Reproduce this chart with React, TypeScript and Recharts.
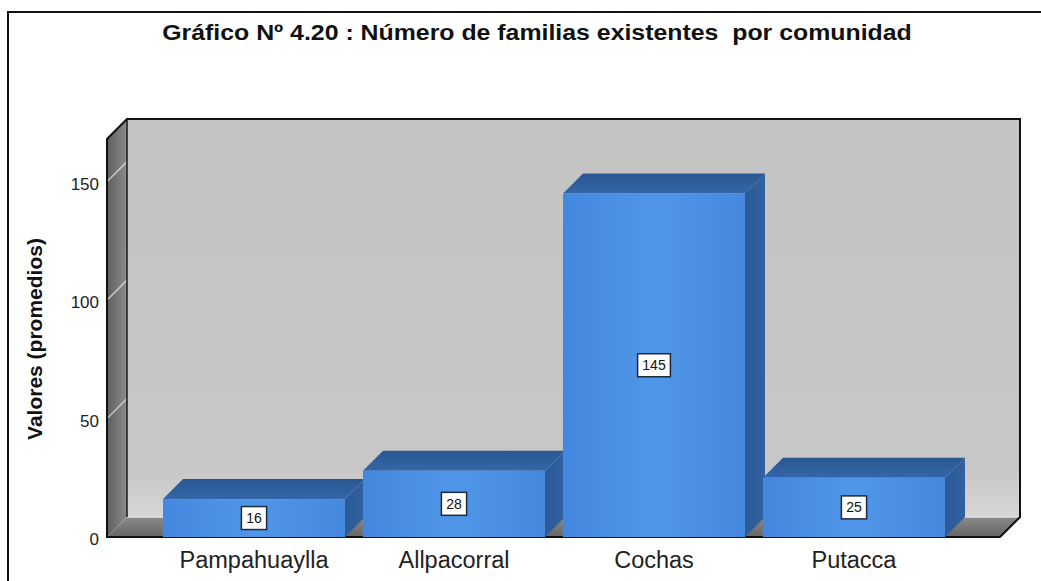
import React from 'react';
import { BarChart, Bar, XAxis, YAxis, ReferenceArea, LabelList } from 'recharts';

const categories = ['Pampahuaylla', 'Allpacorral', 'Cochas', 'Putacca'];
const familias = [16, 28, 145, 25];
const yTicks = [0, 50, 100, 150];

const data = categories.map((comunidad, i) => ({ comunidad, familias: familias[i] }));

const Y_MAX = 168;
const DEPTH = 20;
const PAD_LEFT = 47;
const PAD_RIGHT = 46;
const FONT = '"Liberation Sans", Arial, sans-serif';

// back wall, left wall and floor of the 3D box, built around the front plot rect
const Walls = (props: any) => {
  const { x, y, width, height } = props;
  const L = x - PAD_LEFT;
  const R = x + width + PAD_RIGHT;
  const T = y;
  const B = y + height;
  const D = DEPTH;
  return (
    <g>
      <defs>
        <linearGradient id="backWall" x1="0" y1="0" x2="0" y2="1">
          <stop offset="0%" stopColor="#c3c3c3" />
          <stop offset="88%" stopColor="#c7c7c7" />
          <stop offset="100%" stopColor="#d6d6d6" />
        </linearGradient>
        <linearGradient id="leftWall" x1="0" y1="0" x2="1" y2="0">
          <stop offset="0%" stopColor="#5e5e5e" />
          <stop offset="100%" stopColor="#8c8c8c" />
        </linearGradient>
        <linearGradient id="floor" x1="0" y1="0" x2="0" y2="1">
          <stop offset="0%" stopColor="#8a8a8a" />
          <stop offset="100%" stopColor="#666666" />
        </linearGradient>
      </defs>
      <rect x={L + D} y={T - D} width={R - L} height={B - T} fill="url(#backWall)" />
      <polygon points={`${L},${T} ${L + D},${T - D} ${L + D},${B - D} ${L},${B}`} fill="url(#leftWall)" />
      <polygon points={`${L},${B} ${L + D},${B - D} ${R + D},${B - D} ${R},${B}`} fill="url(#floor)" />
      {yTicks.filter((v) => v > 0).map((v) => {
        const yv = B - (v / Y_MAX) * height;
        return (
          <line key={v} x1={L} y1={yv} x2={L + D} y2={yv - D} stroke="#ffffff" strokeOpacity={0.6} strokeWidth={1.5} />
        );
      })}
      <line x1={L + D} y1={B - D} x2={R + D} y2={B - D} stroke="#e2e2e2" strokeWidth={1.5} />
      <line x1={L + D} y1={T - D} x2={L + D} y2={B - D} stroke="#1a1a1a" strokeWidth={1.5} />
      <polygon
        points={`${L},${B} ${L},${T} ${L + D},${T - D} ${R + D},${T - D} ${R + D},${B - D} ${R},${B}`}
        fill="none"
        stroke="#111111"
        strokeWidth={2}
      />
    </g>
  );
};

const Bar3D = (props: any) => {
  const { x, y, width, height } = props;
  const D = DEPTH;
  return (
    <g>
      <polygon
        points={`${x + width},${y} ${x + width + D},${y - D} ${x + width + D},${y + height - D} ${x + width},${y + height}`}
        fill="url(#barSide)"
      />
      <polygon points={`${x},${y} ${x + D},${y - D} ${x + width + D},${y - D} ${x + width},${y}`} fill="url(#barTop)" />
      <rect x={x} y={y} width={width} height={height} fill="url(#barFront)" />
    </g>
  );
};

const ValueBox = (props: any) => {
  const { x, y, width, height, value } = props;
  const cx = x + width / 2;
  const cy = y + height / 2;
  const txt = String(value);
  const w = txt.length * 7.6 + 10;
  const h = 23;
  return (
    <g>
      <rect x={cx - w / 2} y={cy - h / 2} width={w} height={h} fill="#ffffff" stroke="#1d2a3a" strokeWidth={1.5} />
      <text x={cx} y={cy + 5} textAnchor="middle" fontSize={14} fontFamily={FONT} fill="#111111">
        {txt}
      </text>
    </g>
  );
};

export default function App() {
  return (
    <div
      style={{
        position: 'absolute',
        left: 0,
        top: 0,
        width: 1041,
        height: 581,
        background: '#ffffff',
        overflow: 'hidden',
        fontFamily: FONT,
      }}
    >
      <div
        style={{
          position: 'absolute',
          left: 7,
          top: 11,
          width: 1100,
          height: 700,
          border: '2px solid #111111',
        }}
      />
      <div
        style={{
          position: 'absolute',
          left: 0,
          top: 20,
          width: 1074,
          textAlign: 'center',
          fontSize: 22,
          fontWeight: 'bold',
          color: '#111111',
          whiteSpace: 'pre',
          transform: 'scaleX(1.13)',
          transformOrigin: '537px 0',
        }}
      >
        {'Gráfico Nº 4.20 : Número de familias existentes  por comunidad'}
      </div>
      <div
        style={{
          position: 'absolute',
          left: 35,
          top: 339,
          transform: 'translate(-50%, -50%) rotate(-90deg)',
          fontSize: 21,
          fontWeight: 'bold',
          color: '#111111',
          whiteSpace: 'nowrap',
        }}
      >
        Valores (promedios)
      </div>
      <div style={{ position: 'absolute', left: 0, top: 0 }}>
        <BarChart
          width={1041}
          height={581}
          data={data}
          margin={{ top: 139, right: 41, bottom: 14, left: 77 }}
          barSize={182}
        >
          <defs>
            <linearGradient id="barFront" x1="0" y1="0" x2="1" y2="0">
              <stop offset="0%" stopColor="#4388de" />
              <stop offset="50%" stopColor="#5096e8" />
              <stop offset="100%" stopColor="#4589df" />
            </linearGradient>
            <linearGradient id="barTop" x1="0" y1="0" x2="0" y2="1">
              <stop offset="0%" stopColor="#2a5792" />
              <stop offset="100%" stopColor="#3466a8" />
            </linearGradient>
            <linearGradient id="barSide" x1="0" y1="0" x2="1" y2="0">
              <stop offset="0%" stopColor="#2b5a98" />
              <stop offset="100%" stopColor="#31619f" />
            </linearGradient>
          </defs>
          <ReferenceArea y1={0} y2={Y_MAX} shape={(p: any) => <Walls {...p} />} />
          <XAxis
            dataKey="comunidad"
            axisLine={false}
            tickLine={false}
            tickMargin={8}
            padding={{ left: PAD_LEFT, right: PAD_RIGHT }}
            tick={{ fontSize: 23.5, fill: '#222222', fontFamily: FONT }}
          />
          <YAxis
            domain={[0, Y_MAX]}
            ticks={yTicks}
            width={30}
            axisLine={false}
            tickLine={false}
            tick={{ fontSize: 17, fill: '#222222', fontFamily: FONT, dy: 2 }}
          />
          <Bar dataKey="familias" shape={(p: any) => <Bar3D {...p} />} isAnimationActive={false}>
            <LabelList dataKey="familias" content={(p: any) => <ValueBox {...p} />} />
          </Bar>
        </BarChart>
      </div>
    </div>
  );
}
